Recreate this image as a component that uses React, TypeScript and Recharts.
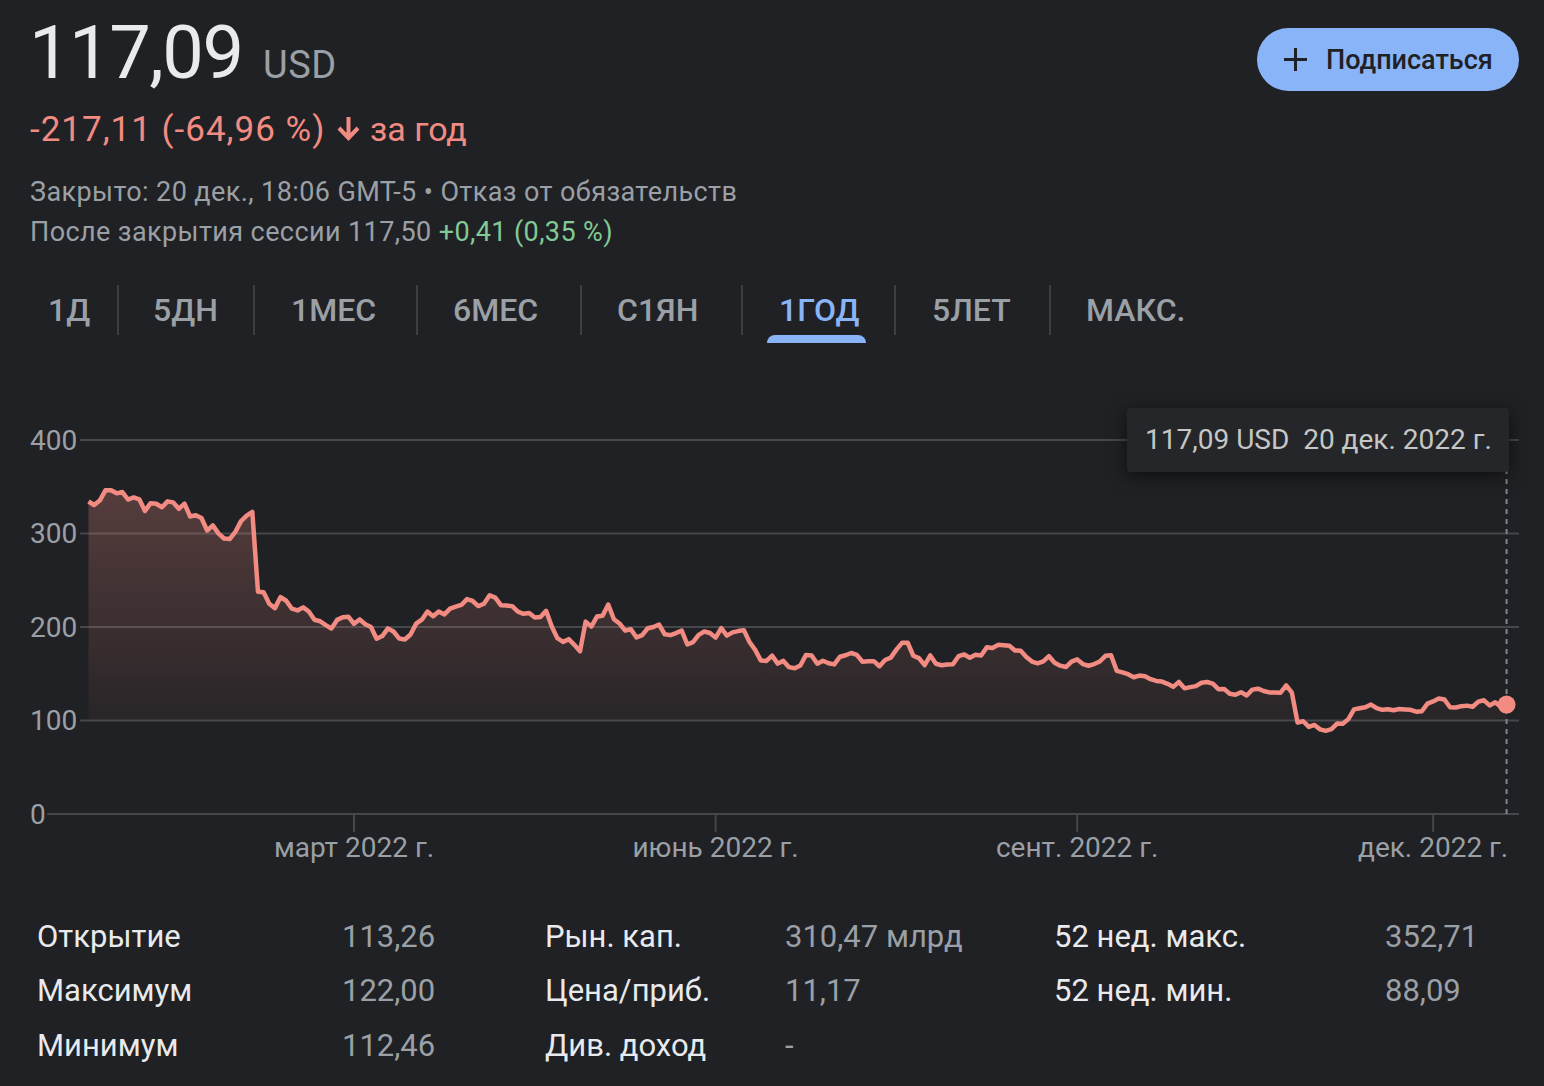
import React from 'react';
import {
  AreaChart, Area, XAxis, YAxis, CartesianGrid, ReferenceLine, ReferenceDot
} from 'recharts';

// closing prices, one value per trading day
const dec21Days = [21, 22, 23, 27, 28, 29, 30, 31];
const dec21Close = [334.2, 330.45, 335.24, 346.18, 346.22, 342.94, 344.36, 336.35];

const jan22Days = [3, 4, 5, 6, 7, 10, 11, 12, 13, 14, 18, 19, 20, 21, 24, 25, 26, 27, 28, 31];
const jan22Close = [338.54, 336.53, 324.17, 332.46, 331.79, 328.07, 334.37, 333.26, 326.48, 331.9, 318.15, 319.59, 316.56, 303.17, 308.71, 300.15, 294.64, 294.1, 301.71, 313.26];

const feb22Days = [1, 2, 3, 4, 7, 8, 9, 10, 11, 14, 15, 16, 17, 18, 22, 23, 24, 25, 28];
const feb22Close = [319, 323, 237.76, 237.09, 224.91, 220.18, 232, 228.07, 219.55, 217.7, 221, 216.54, 207.71, 206.16, 202.08, 198.45, 207.6, 210.48, 211.03];

const mar22Days = [1, 2, 3, 4, 7, 8, 9, 10, 11, 14, 15, 16, 17, 18, 21, 22, 23, 24, 25, 28, 29, 30, 31];
const mar22Close = [203.49, 208.11, 202.97, 200.06, 187.47, 190.29, 198.5, 195.21, 187.61, 186.63, 192.03, 203.63, 207.84, 216.49, 211.49, 216.65, 213.46, 219.57, 221.82, 223.59, 229.86, 227.85, 222.36];

const apr22Days = [1, 4, 5, 6, 7, 8, 11, 12, 13, 14, 18, 19, 20, 21, 22, 25, 26, 27, 28, 29];
const apr22Close = [224.85, 233.89, 231.34, 223.3, 222.95, 222.33, 216.46, 214.14, 214.99, 210.18, 210.77, 217.31, 200.42, 188.07, 184.11, 186.99, 180.95, 174.0, 205.73, 200.47];

const may22Days = [2, 3, 4, 5, 6, 9, 10, 11, 12, 13, 16, 17, 18, 19, 20, 23, 24, 25, 26, 27, 31];
const may22Close = [211.13, 212.03, 224.0, 208.28, 203.77, 196.21, 197.65, 188.74, 191.24, 198.62, 200.04, 202.62, 192.24, 191.29, 193.54, 196.23, 181.28, 183.83, 191.63, 195.13, 193.64];

const jun22Days = [1, 2, 3, 6, 7, 8, 9, 10, 13, 14, 15, 16, 17, 21, 22, 23, 24, 27, 28, 29, 30];
const jun22Close = [188.64, 198.86, 190.78, 194.25, 195.65, 196.64, 184, 175.57, 164.26, 163.73, 169.35, 160.87, 163.74, 157.05, 155.85, 158.75, 170.16, 169.49, 160.68, 163.94, 161.25];

const jul22Days = [1, 5, 6, 7, 8, 11, 12, 13, 14, 15, 18, 19, 20, 21, 22, 25, 26, 27, 28, 29];
const jul22Close = [160.03, 168.19, 169.77, 172.19, 170.25, 162.88, 163.27, 163.49, 158.05, 164.7, 167.23, 175.78, 183.09, 183.17, 169.27, 166.65, 159.15, 169.58, 160.72, 159.1];

const aug22Days = [1, 2, 3, 4, 5, 8, 9, 10, 11, 12, 15, 16, 17, 18, 19, 22, 23, 24, 25, 26, 29, 30, 31];
const aug22Close = [159.93, 160.19, 168.8, 170.57, 167.11, 170.25, 169.53, 178.34, 177.49, 180.89, 180.5, 179.89, 174.85, 174.66, 167.96, 163.05, 161.11, 163.26, 168.78, 161.78, 158.64, 157.16, 162.93];

const sep22Days = [1, 2, 6, 7, 8, 9, 12, 13, 14, 15, 16, 19, 20, 21, 22, 23, 26, 27, 28, 29, 30];
const sep22Close = [165.36, 160.32, 158.54, 160.39, 163.06, 169.15, 169.79, 153.13, 151.47, 149.55, 146.29, 148.09, 147.32, 144.19, 142.33, 141.63, 139.2, 136.0, 141.28, 134.4, 135.68];

const oct22Days = [3, 4, 5, 6, 7, 10, 11, 12, 13, 14, 17, 18, 19, 20, 21, 24, 25, 26, 27, 28, 31];
const oct22Close = [136.77, 140.41, 141.16, 139.39, 133.45, 133.79, 128.54, 127.5, 130.29, 126.76, 133.04, 134.04, 131.53, 130.01, 130.01, 129.72, 137.51, 129.82, 97.94, 99.2, 93.16];

const nov22Days = [1, 2, 3, 4, 7, 8, 9, 10, 11, 14, 15, 16, 17, 18, 21, 22, 23, 25, 28, 29, 30];
const nov22Close = [95.2, 90.54, 88.91, 90.79, 96.72, 96.47, 101.47, 111.87, 113.02, 114.22, 117.08, 113.23, 111.45, 112.05, 110.98, 112.24, 111.83, 111.41, 109.46, 109.86, 118.1];

const dec22Days = [1, 2, 5, 6, 7, 8, 9, 12, 13, 14, 15, 16, 19, 20];
const dec22Close = [120.44, 123.49, 122.43, 114.12, 113.93, 115.33, 115.9, 114.71, 120.15, 121.59, 116.15, 119.43, 114.48, 117.09];

const yTicks = [0, 100, 200, 300, 400];
const xTickDates = ['2022-03-01', '2022-06-01', '2022-09-01', '2022-12-01'];
const xTickLabels = ['март 2022 г.', 'июнь 2022 г.', 'сент. 2022 г.', 'дек. 2022 г.'];
const monthShort = ['янв.', 'февр.', 'мар.', 'апр.', 'мая', 'июн.', 'июл.', 'авг.', 'сент.', 'окт.', 'нояб.', 'дек.'];

const tabLabels = ['1Д', '5ДН', '1МЕС', '6МЕС', 'С1ЯН', '1ГОД', '5ЛЕТ', 'МАКС.'];
const activeTab = '1ГОД';

const statLabels = ['Открытие', 'Максимум', 'Минимум', 'Рын. кап.', 'Цена/приб.', 'Див. доход', '52 нед. макс.', '52 нед. мин.'];
const statValues = ['113,26', '122,00', '112,46', '310,47 млрд', '11,17', '-', '352,71', '88,09'];

const pad = (n: number) => String(n).padStart(2, '0');

const months = [
  { year: 2021, month: 12, days: dec21Days, close: dec21Close },
  { year: 2022, month: 1, days: jan22Days, close: jan22Close },
  { year: 2022, month: 2, days: feb22Days, close: feb22Close },
  { year: 2022, month: 3, days: mar22Days, close: mar22Close },
  { year: 2022, month: 4, days: apr22Days, close: apr22Close },
  { year: 2022, month: 5, days: may22Days, close: may22Close },
  { year: 2022, month: 6, days: jun22Days, close: jun22Close },
  { year: 2022, month: 7, days: jul22Days, close: jul22Close },
  { year: 2022, month: 8, days: aug22Days, close: aug22Close },
  { year: 2022, month: 9, days: sep22Days, close: sep22Close },
  { year: 2022, month: 10, days: oct22Days, close: oct22Close },
  { year: 2022, month: 11, days: nov22Days, close: nov22Close },
  { year: 2022, month: 12, days: dec22Days, close: dec22Close },
];

const data = months
  .flatMap((m) => m.days.map((d, k) => ({
    date: `${m.year}-${pad(m.month)}-${pad(d)}`, day: d, month: m.month, year: m.year, close: m.close[k],
  })))
  .map((row, i) => ({ ...row, i }));

const last = data[data.length - 1];
const tickIdx = xTickDates.map((d) => data.find((r) => r.date === d)!.i);
const fmt = (v: number) => v.toFixed(2).replace('.', ',');

const FONT = 'Roboto, Arial, sans-serif';

// text placed by its baseline
const T = ({ x, base, size, color, weight = 400, ls = 0, children }: any) => (
  <span style={{
    position: 'absolute', left: x, top: base - 0.842 * size, fontSize: size, lineHeight: `${size}px`,
    color, fontWeight: weight, letterSpacing: ls, whiteSpace: 'pre', fontFamily: FONT,
  }}>{children}</span>
);

const YTick = ({ y, payload }: any) => (
  <text x={30} y={y} dy="0.355em" textAnchor="start" fill="#9aa0a6" fontSize={28} fontFamily={FONT}>
    {payload.value}
  </text>
);

const XTick = ({ x, y, payload }: any) => (
  <text x={x} y={y + 13} dy="0.355em" textAnchor="middle" fill="#9aa0a6" fontSize={28} fontFamily={FONT}>
    {xTickLabels[tickIdx.indexOf(payload.value)]}
  </text>
);

const tabX = [48, 153, 291, 453, 617, 779, 932, 1086];
const sepX = [117, 253, 416, 580, 741, 894, 1049];

const App = () => {
  return (
    <div style={{
      position: 'absolute', left: 0, top: 0, width: 1544, height: 1086,
      background: '#202124', overflow: 'hidden', fontFamily: FONT,
    }}>
      {/* header */}
      <T x={29} base={78} size={74} color="#e8eaed" ls={-1.5}>{fmt(last.close)}</T>
      <T x={263} base={78} size={38} color="#9aa0a6" ls={0.5}>USD</T>
      <T x={30} base={141} size={35} color="#f28b82" ls={1}>-217,11 (-64,96 %)</T>
      <svg style={{ position: 'absolute', left: 336, top: 115 }} width={25} height={27} viewBox="0 0 25 27">
        <path d="M12.5 2 V22 M3 13 L12.5 23 L22 13" stroke="#f28b82" strokeWidth={4} fill="none" />
      </svg>
      <T x={370} base={141} size={34} color="#f28b82">за год</T>
      <T x={30} base={202} size={27} color="#9aa0a6" ls={0.4}>Закрыто: 20 дек., 18:06 GMT-5 • Отказ от обязательств</T>
      <T x={30} base={242} size={27} color="#9aa0a6" ls={0.4}>
        После закрытия сессии 117,50 <span style={{ color: '#81c995' }}>+0,41 (0,35 %)</span>
      </T>

      {/* subscribe button */}
      <div style={{
        position: 'absolute', left: 1257, top: 28, width: 262, height: 63, borderRadius: 32, background: '#8ab4f8',
      }}>
        <svg style={{ position: 'absolute', left: 26, top: 19 }} width={25} height={25} viewBox="0 0 25 25">
          <path d="M12.5 1 V24 M1 12.5 H24" stroke="#202124" strokeWidth={3} />
        </svg>
        <T x={69} base={42} size={27} color="#202124" weight={500}>Подписаться</T>
      </div>

      {/* range tabs */}
      {tabLabels.map((t, k) => (
        <T key={t} x={tabX[k]} base={321} size={32} weight={500} color={t === activeTab ? '#8ab4f8' : '#9aa0a6'}>{t}</T>
      ))}
      {sepX.map((x) => (
        <div key={x} style={{ position: 'absolute', left: x, top: 285, width: 2, height: 50, background: '#3c4043' }} />
      ))}
      <div style={{
        position: 'absolute', left: tabX[tabLabels.indexOf(activeTab)] - 12, top: 335, width: 99, height: 8,
        background: '#8ab4f8', borderRadius: '8px 8px 0 0',
      }} />

      {/* chart */}
      <div style={{ position: 'absolute', left: 0, top: 380 }}>
        <AreaChart width={1544} height={500} data={data} margin={{ top: 60, right: 25, bottom: 0, left: 0 }}>
          <defs>
            <linearGradient id="fillClose" x1="0" y1="0" x2="0" y2="1">
              <stop offset="0%" stopColor="#f28b82" stopOpacity={0.26} />
              <stop offset="100%" stopColor="#f28b82" stopOpacity={0.03} />
            </linearGradient>
          </defs>
          <CartesianGrid vertical={false} stroke="#45474a" strokeWidth={2} />
          <XAxis
            dataKey="i"
            type="number"
            domain={[-1.5, data.length - 1 + 2.2]}
            allowDataOverflow
            ticks={tickIdx}
            interval={0}
            height={66}
            axisLine={false}
            tickSize={18}
            tickLine={{ stroke: '#45474a', strokeWidth: 2 }}
            tick={XTick}
          />
          <YAxis
            domain={[0, 400]}
            ticks={yTicks}
            interval={0}
            width={80}
            axisLine={false}
            tickLine={false}
            tick={YTick}
          />
          <ReferenceLine
            segment={[{ x: -7.3, y: 0 }, { x: data.length - 1 + 2.2, y: 0 }]}
            ifOverflow="visible"
            stroke="#45474a"
            strokeWidth={2}
          />
          <Area
            type="linear"
            dataKey="close"
            baseValue={100}
            stroke="#f28b82"
            strokeWidth={4.5}
            strokeLinejoin="round"
            fill="url(#fillClose)"
            fillOpacity={1}
            dot={false}
            activeDot={false}
            isAnimationActive={false}
          />
          <ReferenceLine x={last.i} stroke="#80868b" strokeWidth={2} strokeDasharray="5 5" />
          <ReferenceDot x={last.i} y={last.close} r={9} fill="#f28b82" stroke="none" />
        </AreaChart>
      </div>

      {/* hover label */}
      <div style={{
        position: 'absolute', left: 1127, top: 408, width: 382, height: 64, background: '#252629',
        borderRadius: 4, boxShadow: '0 4px 18px rgba(0,0,0,0.55)',
      }}>
        <T x={18} base={42} size={28} color="#c4c7c5">
          {`${fmt(last.close)} USD  ${last.day} ${monthShort[last.month - 1]} ${last.year} г.`}
        </T>
      </div>

      {/* key stats */}
      {statLabels.map((l, k) => {
        const col = Math.floor(k / 3);
        const row = k % 3;
        const lx = [37, 545, 1054][col];
        const vx = [342, 785, 1385][col];
        const base = 947 + row * 54.5;
        return (
          <React.Fragment key={l}>
            <T x={lx} base={base} size={31} color="#e8eaed">{l}</T>
            <T x={vx} base={base} size={31} color="#9aa0a6">{statValues[k]}</T>
          </React.Fragment>
        );
      })}
    </div>
  );
};

export default App;
